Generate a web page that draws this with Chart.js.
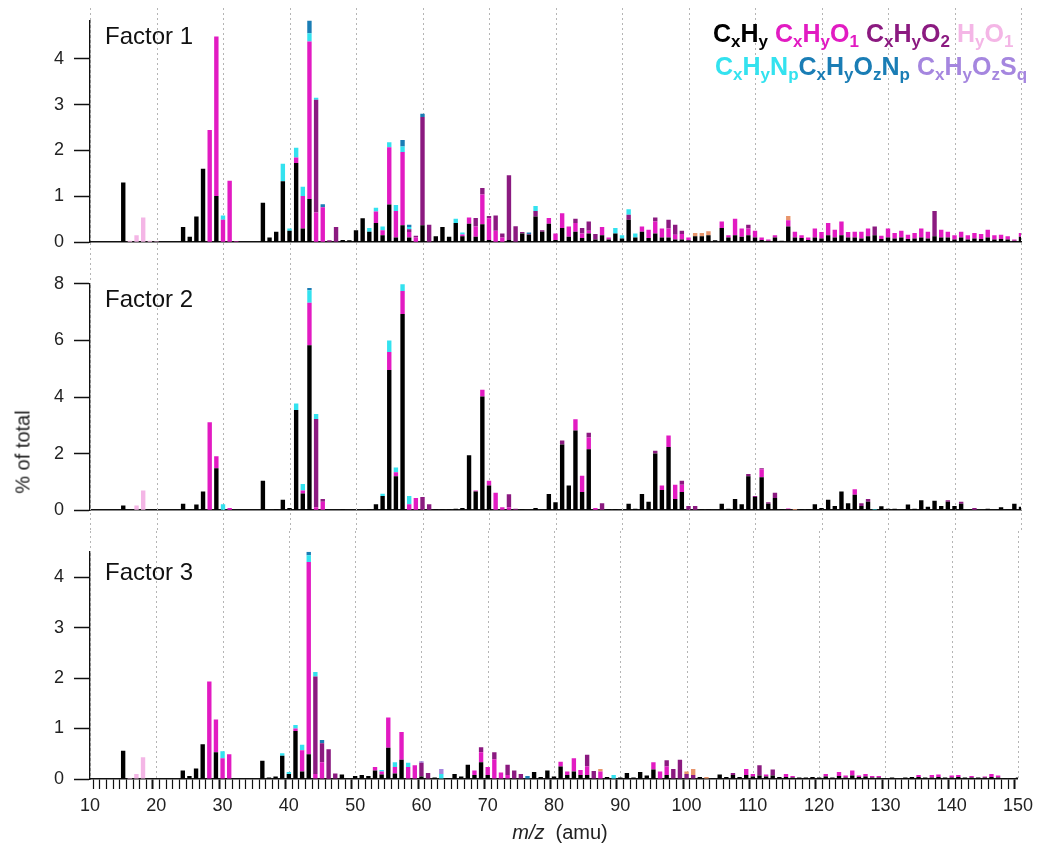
<!DOCTYPE html>
<html>
<head>
<meta charset="utf-8">
<script src="https://cdn.jsdelivr.net/npm/chart.js@4"></script>
<style>
  body { margin: 0; background: #fff; font-family: Arial, "Liberation Sans", sans-serif; }
  #wrap { position: relative; width: 1039px; height: 851px; overflow: hidden; }
  canvas { position: absolute; left: 0; }
  .fac { position: absolute; left: 105px; font-size: 24px; line-height: 24px; color: #111; white-space: nowrap; }
  .leg { position: absolute; font-size: 25px; line-height: 25px; font-weight: bold; white-space: nowrap; }
  .leg sub { font-size: 17px; vertical-align: baseline; position: relative; top: 5px; }
  .ytitle { position: absolute; left: 23px; top: 452px; font-size: 20px; font-weight: normal; color: #222; white-space: nowrap;
            transform: translate(-50%, -50%) rotate(-90deg); }
  .xtitle { position: absolute; left: 560px; top: 832px; font-size: 20px; color: #222; white-space: nowrap;
            transform: translate(-50%, -50%); }
</style>
</head>
<body>
<div id="wrap">
  <canvas id="c1" width="1039" height="263" style="top:0px"></canvas>
  <canvas id="c2" width="1039" height="268" style="top:263px"></canvas>
  <canvas id="c3" width="1039" height="320" style="top:531px"></canvas>

  <div class="fac" style="top:24px">Factor 1</div>
  <div class="fac" style="top:287px">Factor 2</div>
  <div class="fac" style="top:560px">Factor 3</div>

  <div class="leg" style="left:713px; top:21px">
    <span style="color:#000">C<sub>x</sub>H<sub>y</sub></span>
    <span style="color:#e21bc2">C<sub>x</sub>H<sub>y</sub>O<sub>1</sub></span>
    <span style="color:#8b1a80">C<sub>x</sub>H<sub>y</sub>O<sub>2</sub></span>
    <span style="color:#f4b6e6">H<sub>y</sub>O<sub>1</sub></span>
  </div>
  <div class="leg" style="left:715px; top:54px">
    <span style="color:#33e2ef">C<sub>x</sub>H<sub>y</sub>N<sub>p</sub></span><span style="color:#1a7db5">C<sub>x</sub>H<sub>y</sub>O<sub>z</sub>N<sub>p</sub></span>
    <span style="color:#a586df">C<sub>x</sub>H<sub>y</sub>O<sub>z</sub>S<sub>q</sub></span>
  </div>

  <div class="ytitle">% of total</div>
  <div class="xtitle"><i>m/z</i>&nbsp; (amu)</div>
</div>

<script>
// ion groups, stacked bottom -> top
const groupNames  = ["CxHy", "CxHyO1", "CxHyO2", "HyO1", "CxHyNp", "CxHyOzNp", "CxHyOzSq", "other"];
const groupColors = ["#000000", "#e21bc2", "#8b1a80", "#f4b6e6", "#33e2ef", "#1a7db5", "#a586df", "#e8956c"];

// dotted guide lines (m/z)
const gridMz = [10, 20, 30, 40, 50, 60, 70, 80, 90, 100, 110, 120, 130, 140, 150];

// --- Factor 1 : [m/z, % of total] ---
const f1_CH = [[15,1.30],[24,0.33],[25,0.12],[26,0.56],[27,1.60],[29,1.01],[36,0.86],[37,0.10],[38,0.23],[39,1.33],[40,0.25],
  [41,1.73],[42,0.30],[43,0.94],[48,0.05],[49,0.04],[50,0.26],[51,0.52],[52,0.23],[53,0.42],[54,0.15],[55,0.82],[56,0.10],
  [57,0.37],[58,0.10],[60,0.37],[62,0.13],[63,0.33],[64,0.12],[65,0.42],[66,0.13],[67,0.40],[68,0.12],[69,0.39],[70,0.05],
  [73,0.05],[75,0.19],[76,0.16],[77,0.56],[78,0.23],[79,0.40],[80,0.05],[81,0.31],[82,0.12],[83,0.23],[84,0.09],[85,0.19],
  [86,0.06],[87,0.15],[88,0.06],[89,0.19],[90,0.08],[91,0.49],[92,0.10],[93,0.23],[94,0.09],[95,0.19],[96,0.10],[97,0.10],
  [98,0.06],[99,0.06],[100,0.04],[101,0.13],[102,0.13],[103,0.15],[104,0.04],[105,0.31],[106,0.10],[107,0.15],[108,0.12],
  [109,0.15],[110,0.10],[111,0.05],[112,0.03],[113,0.10],[114,0.03],[115,0.34],[116,0.10],[117,0.09],[118,0.05],[119,0.10],
  [120,0.08],[121,0.15],[122,0.10],[123,0.15],[124,0.10],[125,0.10],[126,0.08],[127,0.13],[128,0.15],[129,0.07],[130,0.10],
  [131,0.08],[132,0.10],[133,0.07],[134,0.08],[135,0.10],[136,0.08],[137,0.13],[138,0.10],[139,0.10],[140,0.06],[141,0.10],
  [142,0.06],[143,0.08],[144,0.07],[145,0.10],[146,0.06],[147,0.07],[148,0.06],[149,0.03],[150,0.12]];
const f1_O1 = [[28,2.45],[29,3.48],[30,0.49],[31,1.34],[32,0.02],[41,0.12],[42,0.71],[43,3.44],[44,0.65],[45,0.76],[53,0.25],
  [54,0.11],[55,1.25],[56,0.58],[57,1.60],[58,0.12],[59,0.10],[66,0.04],[67,0.14],[68,0.22],[69,0.65],[70,0.47],[71,0.25],
  [72,0.10],[79,0.13],[80,0.14],[81,0.32],[82,0.22],[83,0.19],[84,0.10],[85,0.06],[87,0.18],[88,0.04],[93,0.11],[94,0.18],
  [95,0.26],[96,0.20],[97,0.20],[98,0.10],[99,0.12],[100,0.06],[105,0.14],[106,0.05],[107,0.36],[108,0.18],[109,0.15],
  [110,0.15],[111,0.05],[112,0.03],[113,0.05],[115,0.14],[116,0.13],[117,0.06],[118,0.05],[119,0.20],[120,0.14],[121,0.27],
  [122,0.17],[123,0.30],[124,0.12],[125,0.13],[126,0.15],[127,0.17],[129,0.07],[130,0.20],[131,0.12],[132,0.15],[133,0.09],
  [134,0.12],[135,0.20],[136,0.15],[138,0.17],[139,0.13],[140,0.09],[141,0.13],[142,0.09],[143,0.12],[144,0.11],[145,0.17],
  [146,0.09],[147,0.09],[148,0.07],[149,0.03],[150,0.08]];
const f1_O2 = [[44,2.46],[46,0.04],[47,0.33],[58,0.06],[59,0.04],[60,2.36],[61,0.38],[68,0.19],[69,0.14],[70,0.05],[71,0.33],
  [72,0.09],[73,1.41],[74,0.35],[75,0.03],[76,0.02],[77,0.12],[78,0.03],[83,0.09],[84,0.12],[85,0.20],[86,0.12],[91,0.11],
  [95,0.09],[97,0.19],[98,0.22],[99,0.07],[109,0.08],[128,0.19],[137,0.55]];
const f1_HO = [[16,0.03],[17,0.15],[18,0.54],[19,0.03],[20,0.02]];
const f1_N  = [[30,0.09],[39,0.38],[40,0.05],[41,0.21],[42,0.20],[43,0.18],[44,0.04],[52,0.08],[53,0.08],[54,0.08],[55,0.11],
  [56,0.13],[57,0.12],[58,0.05],[65,0.09],[66,0.04],[77,0.11],[89,0.12],[90,0.07],[91,0.12],[92,0.09]];
const f1_ON = [[43,0.30],[45,0.07],[57,0.14],[58,0.05],[60,0.07],[76,0.03]];
const f1_OS = [];
const f1_X  = [[101,0.07],[102,0.07],[103,0.09],[115,0.09]];

// --- Factor 2 ---
const f2_CH = [[15,0.17],[24,0.23],[25,0.03],[26,0.20],[27,0.66],[29,1.48],[36,1.04],[38,0.03],[39,0.37],[40,0.08],[41,3.54],
  [42,0.59],[43,5.83],[48,0.03],[52,0.03],[53,0.21],[54,0.50],[55,4.95],[56,1.20],[57,6.93],[62,0.03],[63,0.03],[64,0.03],
  [65,0.05],[66,0.08],[67,1.94],[68,0.66],[69,4.02],[70,0.87],[75,0.03],[77,0.08],[79,0.57],[80,0.28],[81,2.32],[82,0.87],
  [83,2.82],[84,0.64],[85,2.15],[88,0.03],[89,0.03],[91,0.23],[92,0.05],[93,0.57],[94,0.30],[95,2.00],[96,0.71],[97,2.23],
  [98,0.40],[99,0.64],[102,0.03],[103,0.03],[105,0.23],[106,0.05],[107,0.40],[108,0.21],[109,1.20],[110,0.47],[111,1.16],
  [112,0.23],[113,0.43],[114,0.03],[115,0.03],[117,0.03],[118,0.03],[119,0.21],[120,0.08],[121,0.37],[122,0.15],[123,0.66],
  [124,0.25],[125,0.55],[126,0.15],[127,0.30],[129,0.14],[130,0.05],[131,0.05],[133,0.20],[134,0.05],[135,0.35],[136,0.12],
  [137,0.33],[138,0.15],[139,0.30],[140,0.15],[141,0.23],[145,0.05],[147,0.10],[148,0.03],[149,0.23],[150,0.12]];
const f2_O1 = [[28,3.11],[29,0.43],[31,0.08],[42,0.11],[43,1.50],[44,0.10],[45,0.30],[46,0.02],[55,0.64],[56,0.14],[57,0.82],
  [58,0.21],[59,0.43],[68,0.04],[69,0.24],[70,0.17],[71,0.62],[72,0.10],[73,0.10],[83,0.39],[84,0.58],[85,0.42],[86,0.08],
  [96,0.16],[97,0.41],[98,0.50],[99,0.26],[111,0.29],[115,0.03],[125,0.19]];
const f2_O2 = [[44,3.12],[45,0.10],[60,0.47],[61,0.21],[73,0.46],[74,0.05],[81,0.14],[85,0.17],[87,0.25],[95,0.10],[99,0.14],
  [100,0.15],[101,0.15],[109,0.08],[110,0.03],[111,0.03],[112,0.05],[113,0.19],[126,0.10],[127,0.10],[139,0.05],[141,0.07],
  [143,0.08]];
const f2_HO = [[16,0.02],[17,0.17],[18,0.70]];
const f2_N  = [[30,0.21],[41,0.23],[42,0.23],[43,0.44],[44,0.18],[54,0.08],[55,0.41],[56,0.17],[57,0.23],[58,0.29],[128,0.03]];
const f2_ON = [[43,0.08]];
const f2_OS = [];
const f2_X  = [[116,0.04]];

// --- Factor 3 ---
const f3_CH = [[15,0.56],[24,0.17],[25,0.06],[26,0.21],[27,0.69],[29,0.53],[36,0.36],[37,0.03],[38,0.05],[39,0.46],[40,0.10],
  [41,0.95],[42,0.15],[43,0.49],[48,0.09],[50,0.06],[51,0.08],[52,0.06],[53,0.17],[54,0.09],[55,0.62],[56,0.11],[57,0.38],
  [60,0.05],[62,0.03],[64,0.02],[65,0.10],[66,0.05],[67,0.28],[68,0.08],[69,0.33],[70,0.08],[77,0.14],[78,0.04],[79,0.17],
  [80,0.05],[81,0.25],[82,0.08],[83,0.15],[84,0.08],[85,0.08],[88,0.04],[90,0.03],[91,0.12],[92,0.03],[93,0.14],[94,0.07],
  [95,0.19],[97,0.08],[102,0.04],[104,0.02],[105,0.09],[106,0.04],[107,0.08],[108,0.04],[109,0.08],[110,0.05],[111,0.07],
  [112,0.05],[113,0.07],[114,0.04],[115,0.04],[116,0.03],[117,0.03],[118,0.03],[119,0.04],[120,0.03],[121,0.05],[122,0.03],
  [123,0.06],[124,0.03],[125,0.07],[126,0.04],[127,0.05],[128,0.03],[129,0.03],[130,0.02],[131,0.03],[133,0.03],[134,0.04],
  [135,0.04],[136,0.03],[137,0.03],[138,0.04],[139,0.03],[140,0.03],[141,0.04],[142,0.03],[143,0.03],[144,0.03],[145,0.03],
  [146,0.04],[147,0.03],[148,0.02],[149,0.02],[150,0.03]];
const f3_O1 = [[28,1.93],[29,0.65],[30,0.41],[31,0.49],[41,0.05],[42,0.42],[43,3.81],[44,0.10],[45,0.33],[46,0.02],[53,0.07],
  [54,0.06],[55,0.60],[56,0.13],[57,0.55],[58,0.24],[59,0.27],[68,0.09],[69,0.20],[70,0.16],[71,0.39],[72,0.13],[73,0.08],
  [81,0.09],[82,0.07],[83,0.26],[84,0.10],[85,0.17],[87,0.15],[95,0.14],[96,0.15],[97,0.17],[109,0.12],[110,0.05],[112,0.04],
  [115,0.06],[116,0.03],[121,0.05],[123,0.08],[124,0.04],[125,0.10],[126,0.03],[127,0.05],[128,0.03],[129,0.03],[135,0.04],
  [137,0.05],[138,0.05],[140,0.04],[141,0.04],[143,0.03],[145,0.02],[146,0.06],[147,0.04]];
const f3_O2 = [[44,1.93],[45,0.38],[46,0.57],[47,0.11],[60,0.27],[61,0.12],[69,0.10],[71,0.14],[73,0.20],[74,0.17],[75,0.10],
  [85,0.23],[86,0.16],[97,0.12],[98,0.20],[99,0.38],[100,0.10],[101,0.08],[107,0.04],[111,0.20],[113,0.12]];
const f3_HO = [[16,0.02],[17,0.10],[18,0.43]];
const f3_N  = [[30,0.14],[39,0.05],[40,0.04],[41,0.07],[42,0.11],[43,0.13],[44,0.09],[54,0.03],[56,0.09],[58,0.08],[63,0.10],
  [89,0.08]];
const f3_ON = [[43,0.07],[45,0.06],[76,0.06]];
const f3_OS = [[60,0.03],[63,0.10]];
const f3_X  = [[87,0.05],[100,0.05],[101,0.12],[103,0.04]];

const FONT = 'Arial, "Liberation Sans", sans-serif';

/* dotted vertical guides, running through the gaps between panels */
const dottedGrid = {
    id: "dottedGrid",
    beforeDatasetsDraw(chart, args, opts) {
        const ctx = chart.ctx;
        const x = chart.scales.x;
        const bottom = opts.toArea ? chart.chartArea.bottom : chart.height;
        ctx.save();
        ctx.strokeStyle = "#b5b5b5";
        ctx.lineWidth = 1;
        ctx.setLineDash([2, 3]);
        gridMz.forEach((v) => {
            const px = Math.round(x.getPixelForValue(v)) + 0.5;
            ctx.beginPath();
            ctx.moveTo(px, opts.top);
            ctx.lineTo(px, bottom);
            ctx.stroke();
        });
        ctx.restore();
    }
};

function makePanel(id, series, yMax, yStep, isBottom, padTop, padBottom, gridTop) {
    const datasets = series.map((s, i) => ({
        label: groupNames[i],
        data: s.map((p) => ({x: p[0], y: p[1]})),
        backgroundColor: groupColors[i],
        borderWidth: 0,
        barPercentage: 0.66,
        categoryPercentage: 1.0
    }));

    return new Chart(document.getElementById(id), {
        type: "bar",
        data: {datasets: datasets},
        options: {
            responsive: false,
            animation: false,
            layout: {padding: {top: padTop, bottom: padBottom, left: 0, right: 18}},
            plugins: {
                legend: {display: false},
                tooltip: {enabled: false},
                dottedGrid: {top: gridTop, toArea: isBottom}
            },
            scales: {
                x: {
                    type: "linear", min: 10, max: 150, offset: false, stacked: true,
                    border: {display: true, color: "#111", width: 1.5},
                    grid: {
                        drawOnChartArea: false, drawTicks: isBottom, tickLength: 10, tickColor: "#111",
                        tickWidth: (c) => (c.tick && c.tick.value % 10 === 0 ? 2 : 1.2)
                    },
                    ticks: {
                        display: isBottom, stepSize: 1, autoSkip: false, maxRotation: 0, padding: 6,
                        color: "#222", font: {size: 18, family: FONT},
                        callback: (v) => (v % 10 === 0 ? v : "")
                    },
                    afterFit: (s) => { s.height = isBottom ? 72 : 0; }
                },
                y: {
                    min: 0, max: yMax, stacked: true,
                    border: {display: true, color: "#111", width: 1.5},
                    grid: {drawOnChartArea: false, drawTicks: true, tickLength: 16, tickColor: "#111", tickWidth: 1.5},
                    ticks: {stepSize: yStep, includeBounds: false, padding: 10, color: "#222", font: {size: 18, family: FONT}},
                    afterFit: (s) => { s.width = 90; }
                }
            }
        },
        plugins: [dottedGrid]
    });
}

makePanel("c1", [f1_CH, f1_O1, f1_O2, f1_HO, f1_N, f1_ON, f1_OS, f1_X], 4.83, 1, false, 15, 19, 8);
makePanel("c2", [f2_CH, f2_O1, f2_O2, f2_HO, f2_N, f2_ON, f2_OS, f2_X], 8, 2, false, 19, 19, 0);
makePanel("c3", [f3_CH, f3_O1, f3_O2, f3_HO, f3_N, f3_ON, f3_OS, f3_X], 4.5, 1, true, 19, 0, 0);
</script>
</body>
</html>
